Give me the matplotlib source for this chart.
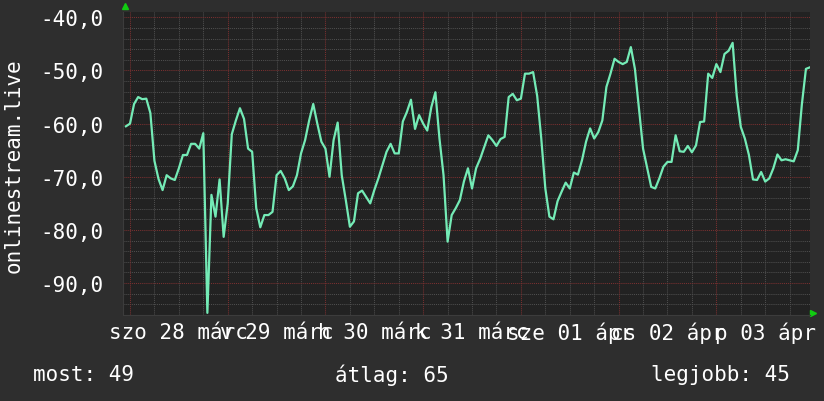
import numpy as np
import matplotlib
matplotlib.use("Agg")
import matplotlib.pyplot as plt
from matplotlib.ticker import MultipleLocator, FixedLocator

# hourly samples, hours since 28 márc 00:00
start_hour = -1
values = [
    -60.5, -60.0, -56.3, -55.0, -55.4, -55.3, -58.0, -67.0, -70.4, -72.5,
    -69.7, -70.3, -70.6, -68.4, -65.9, -65.9, -63.8, -63.8, -64.7, -61.8,
    -95.6, -73.4, -77.5, -70.5, -81.3, -75.0, -62.0, -59.4, -57.1, -59.1,
    -64.7, -65.3, -75.9, -79.5, -77.2, -77.2, -76.6, -69.7, -68.9, -70.3,
    -72.5, -71.8, -69.7, -65.6, -63.1, -59.4, -56.3, -60.0, -63.4, -64.7,
    -70.0, -63.1, -59.8, -69.7, -74.4, -79.4, -78.4, -73.1, -72.6, -73.8,
    -75.0, -72.5, -70.3, -67.8, -65.3, -63.8, -65.6, -65.6, -59.6, -57.8,
    -55.5, -61.0, -58.4, -60.0, -61.3, -56.9, -54.1, -62.8, -69.7, -82.2,
    -77.2, -75.9, -74.4, -70.9, -68.4, -72.2, -68.4, -66.6, -64.4, -62.2,
    -63.1, -64.2, -62.9, -62.5, -55.0, -54.4, -55.6, -55.3, -50.6, -50.6,
    -50.3, -54.8, -62.8, -72.2, -77.5, -78.0, -74.6, -72.8, -71.1, -72.2,
    -69.2, -69.6, -66.9, -63.4, -60.9, -62.8, -61.6, -59.4, -53.1, -50.6,
    -47.8, -48.4, -48.8, -48.4, -45.6, -49.7, -57.2, -64.7, -68.3, -71.9,
    -72.2, -70.3, -68.1, -67.2, -67.2, -62.2, -65.2, -65.3, -64.2, -65.4,
    -64.1, -59.7, -59.6, -50.6, -51.4, -48.8, -50.3, -46.9, -46.3, -44.8,
    -54.7, -60.6, -62.8, -65.9, -70.5, -70.6, -69.1, -70.9, -70.3, -68.4,
    -65.8, -66.9, -66.7, -66.9, -67.1, -65.0, -56.4, -49.7, -49.4,
]
hours = start_hour + np.arange(len(values))

day_ticks = [12, 36, 60, 84, 108, 132, 156]
day_labels = ["szo 28 márc", "v 29 márc", "h 30 márc", "k 31 márc",
              "sze 01 ápr", "cs 02 ápr", "p 03 ápr"]
y_ticks = [-40, -50, -60, -70, -80, -90]
y_labels = ["-40,0", "-50,0", "-60,0", "-70,0", "-80,0", "-90,0"]

series_name = "onlinestream.live"
legend_items = ["most: 49", "átlag: 65", "legjobb: 45"]

bg = "#2e2e2e"
plot_bg = "#222222"
fg = "#ffffff"
line_col = "#74ebb6"
mono = "DejaVu Sans Mono"
fs = 15

fig = plt.figure(figsize=(8.24, 4.02), dpi=100, facecolor=bg)
ax = fig.add_axes([123/824, 1-316/402, 687/824, 303/402], facecolor=plot_bg)

ax.set_xlim(-1.72, 167.0)
ax.set_ylim(-96.0, -39.0)

# grid: grey dotted every 6 h / 2 units, red dotted every day / 10 units
dots = (0, (1, 1))
for h in range(-0, 168, 6):
    if h % 24:
        ax.axvline(h, color="#4e4e4e", linestyle=dots, linewidth=0.75, zorder=1)
for v in range(-94, -39, 2):
    if v % 10:
        ax.axhline(v, color="#4e4e4e", linestyle=dots, linewidth=0.75, zorder=1)
for d in range(0, 168, 24):
    ax.axvline(d, color="#7a3030", linestyle=dots, linewidth=0.75, zorder=1)
for v in y_ticks:
    ax.axhline(v, color="#7a3030", linestyle=dots, linewidth=0.75, zorder=1)

ax.plot(hours, values, color=line_col, linewidth=1.6, zorder=3)

ax.xaxis.set_major_locator(FixedLocator(day_ticks))
ax.set_xticklabels(day_labels)
ax.set_yticks(y_ticks)
ax.set_yticklabels(y_labels)
ax.tick_params(which="both", length=0, colors=fg, labelsize=fs)
ax.tick_params(axis="y", pad=14)
ax.tick_params(axis="x", pad=5)
for lab in ax.get_xticklabels() + ax.get_yticklabels():
    lab.set_fontfamily(mono)

for s in ["top", "right"]:
    ax.spines[s].set_visible(False)
for s in ["left", "bottom"]:
    ax.spines[s].set_color("#3c3c3c")

# small green arrows at the axis ends
ax.plot([0.003], [1.02], marker="^", color="#11cc11", markersize=5,
        transform=ax.transAxes, clip_on=False)
ax.plot([1.004], [0.007], marker=">", color="#11cc11", markersize=5,
        transform=ax.transAxes, clip_on=False)

fig.text(14/824, 1-166/402, series_name, rotation=90, color=fg,
         fontsize=fs, family=mono, ha="center", va="center")

fig.text(33/824, 1-375/402, legend_items[0], color=fg, fontsize=fs,
         family=mono, ha="left", va="center")
fig.text(335/824, 1-375/402, legend_items[1], color=fg, fontsize=fs,
         family=mono, ha="left", va="center")
fig.text(651/824, 1-375/402, legend_items[2], color=fg, fontsize=fs,
         family=mono, ha="left", va="center")

fig.savefig("out.png", dpi=100, facecolor=bg)
